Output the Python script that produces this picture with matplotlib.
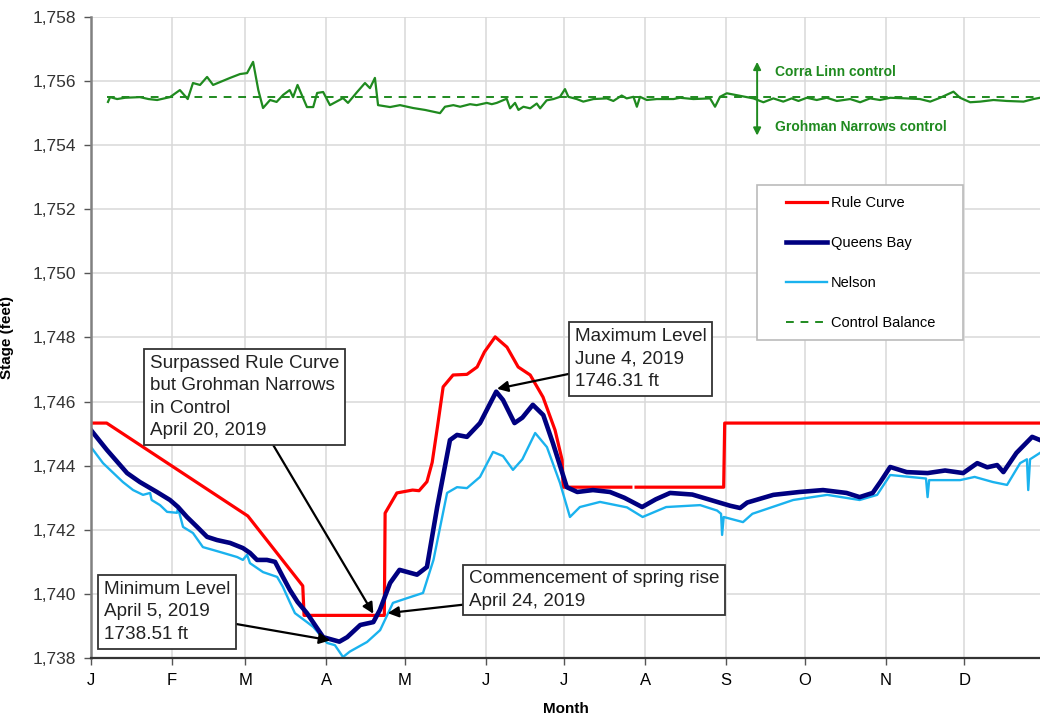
"""Kootenay Lake stage hydrograph, 2019 (Queens Bay / Nelson vs rule curve)."""

import matplotlib

matplotlib.use("Agg")
import matplotlib.pyplot as plt
import numpy as np
from matplotlib.patches import Rectangle

plt.rcParams["font.family"] = ["Liberation Sans", "DejaVu Sans"]

nan = np.nan

# day of year (0 = Jan 1)
month_starts = [0, 31, 59, 90, 120, 151, 181, 212, 243, 273, 304, 334]
month_labels = ["J", "F", "M", "A", "M", "J", "J", "A", "S", "O", "N", "D"]
y_ticks = [1738, 1740, 1742, 1744, 1746, 1748, 1750, 1752, 1754, 1756, 1758]

rule_day = [0, 6, 60, 81, 81.5, 112.2, 112.5, 117, 123, 125.5, 128.5, 130.5, 132.5, 134.7, 138.5,
            143.8, 147.7, 150.5, 154.6, 159.1, 163.4, 168, 172.9, 177.5, 180.2, 180.6, 206.5,
            207.5, 208.5, 242, 242.4, 365]
rule_val = [1745.33, 1745.33, 1742.43, 1740.25, 1739.33, 1739.33, 1742.52, 1743.15, 1743.24, 1743.22,
            1743.5, 1744.1, 1745.2, 1746.46, 1746.83, 1746.85, 1747.08, 1747.55, 1748.02, 1747.7,
            1747.08, 1746.83, 1746.14, 1745.11, 1744.18, 1743.33, 1743.33, nan, 1743.33, 1743.33,
            1745.33, 1745.33]

qb_day = [0, 6.1, 13.8, 18.7, 25.2, 30.2, 33.3, 36.7, 40.6, 44.4, 48.2, 53.2, 58.1, 60.8, 63.5,
          67.3, 70.4, 73.4, 76.1, 79, 82.6, 88.8, 95, 98, 103, 108, 110.5, 114.4, 118, 124.7,
          128.5, 132.4, 137.3, 140, 143.8, 148.8, 155, 157.6, 162, 165, 169, 173, 176.7, 182, 186,
          192, 198.5, 204, 210.8, 216, 221.5, 230, 239.5, 244.5, 248.3, 251, 261, 271, 280, 289,
          294, 299, 302, 305.7, 312, 320, 326.7, 333.6, 339, 342.8, 346.6, 349, 354, 360, 363]
qb_val = [1745.11, 1744.49, 1743.77, 1743.49, 1743.18, 1742.93, 1742.71, 1742.4, 1742.09, 1741.78,
          1741.68, 1741.59, 1741.43, 1741.28, 1741.06, 1741.06, 1741.0, 1740.53, 1740.12, 1739.75,
          1739.4, 1738.65, 1738.51, 1738.65, 1739.03, 1739.12, 1739.5, 1740.34, 1740.75, 1740.6,
          1740.84, 1742.7, 1744.8, 1744.96, 1744.9, 1745.33, 1746.31, 1746.05, 1745.33, 1745.5,
          1745.9, 1745.58, 1744.7, 1743.33, 1743.18, 1743.24, 1743.18, 1743.0, 1742.71, 1742.95,
          1743.15, 1743.1, 1742.87, 1742.75, 1742.68, 1742.85, 1743.09, 1743.18, 1743.24, 1743.15,
          1743.02, 1743.15, 1743.5, 1743.96, 1743.8, 1743.77, 1743.85, 1743.77, 1744.08, 1743.95,
          1744.02, 1743.8, 1744.4, 1744.9, 1744.8]

nelson_day = [0, 4.6, 7.3, 12.2, 16.1, 19.9, 22.6, 23.2, 26.4, 29.1, 32.9, 33.3, 35.2, 39, 42.8,
              46.7, 50.5, 55.9, 58.1, 59.7, 60.8, 65.8, 71.2, 73.4, 76, 78, 82.6, 85, 90.3, 93.3,
              96.4, 99, 105.6, 110.6, 115.5, 121, 127, 131, 136.2, 140, 143.8, 148.8, 153.8, 157.6,
              161.4, 165, 169.9, 174.4, 179.4, 183.2, 187, 194.7, 205, 211, 220, 233, 239.5, 241,
              241.4, 242, 249.4, 253, 268.6, 281.6, 294, 300.7, 305.7, 317, 319.4, 320, 320.6,
              332.4, 338, 345, 350.4, 355.4, 358, 358.5, 359.2, 363]
nelson_val = [1744.58, 1744.08, 1743.87, 1743.49, 1743.24, 1743.09, 1743.15, 1742.93, 1742.77,
              1742.56, 1742.53, 1742.68, 1742.09, 1741.9, 1741.46, 1741.37, 1741.28, 1741.15,
              1741.06, 1741.22, 1740.96, 1740.68, 1740.53, 1740.22, 1739.75, 1739.4, 1739.12,
              1738.97, 1738.47, 1738.4, 1738.03, 1738.2, 1738.5, 1738.87, 1739.72, 1739.87,
              1740.03, 1741.06, 1743.15, 1743.33, 1743.3, 1743.65, 1744.43, 1744.3, 1743.87, 1744.2,
              1745.02, 1744.58, 1743.46, 1742.4, 1742.71, 1742.87, 1742.7, 1742.4, 1742.71, 1742.77,
              1742.6, 1742.5, 1741.84, 1742.4, 1742.24, 1742.5, 1742.93, 1743.09, 1742.93, 1743.09,
              1743.71, 1743.62, 1743.6, 1743.02, 1743.55, 1743.55, 1743.65, 1743.49, 1743.4,
              1744.08, 1744.2, 1743.24, 1744.2, 1744.4]

ctrl_day = [6.5, 7.3, 10, 13, 18.7, 22, 25.3, 30.2, 34, 37, 39, 41.7, 44.4, 46.7, 53.2, 57, 59.7,
            62, 64, 65.8, 68.5, 71, 73.5, 76, 77.3, 79, 82.6, 85, 86.5, 88.8, 91.4, 96.4, 98.3,
            101.8, 104.8, 106.7, 108.6, 109.8, 114.4, 118.2, 123.2, 127.8, 133.5, 135.4, 138.6,
            141.2, 145, 147.5, 151.4, 153.3, 155.2, 159, 160.3, 162.2, 163.5, 165.4, 168, 170.5,
            171.8, 174.3, 176.9, 179.4, 181.3, 182.6, 185.8, 188.3, 192.2, 197.3, 199.8, 203,
            204.9, 207.5, 208.8, 210, 212.6, 216.4, 222.8, 225.3, 230.4, 236.8, 238.7, 240.6,
            243.2, 248.3, 253.4, 257.2, 261, 264.8, 268, 270.6, 273.8, 277.6, 281.4, 285.3, 290.4,
            294.2, 298, 301.8, 305.7, 312, 317.1, 321, 324.8, 329.9, 332.4, 336.3, 340.1, 345.2,
            350.3, 356.7, 360.5, 363]
ctrl_val = [1755.35, 1755.5, 1755.44, 1755.48, 1755.5, 1755.44, 1755.41, 1755.5, 1755.72, 1755.44,
            1755.94, 1755.88, 1756.13, 1755.88, 1756.1, 1756.22, 1756.25, 1756.6, 1755.72, 1755.16,
            1755.41, 1755.35, 1755.57, 1755.72, 1755.5, 1755.88, 1755.19, 1755.19, 1755.63,
            1755.66, 1755.25, 1755.47, 1755.32, 1755.66, 1755.94, 1755.78, 1756.1, 1755.25,
            1755.19, 1755.25, 1755.16, 1755.1, 1755.0, 1755.2, 1755.25, 1755.2, 1755.28, 1755.25,
            1755.32, 1755.28, 1755.32, 1755.45, 1755.15, 1755.32, 1755.1, 1755.2, 1755.15, 1755.3,
            1755.15, 1755.4, 1755.44, 1755.51, 1755.75, 1755.51, 1755.44, 1755.36, 1755.44,
            1755.46, 1755.38, 1755.55, 1755.46, 1755.51, 1755.2, 1755.51, 1755.41, 1755.44,
            1755.44, 1755.48, 1755.44, 1755.46, 1755.2, 1755.51, 1755.62, 1755.54, 1755.46,
            1755.34, 1755.46, 1755.36, 1755.46, 1755.38, 1755.48, 1755.41, 1755.48, 1755.38,
            1755.44, 1755.34, 1755.46, 1755.41, 1755.48, 1755.46, 1755.44, 1755.36, 1755.48,
            1755.67, 1755.48, 1755.34, 1755.36, 1755.41, 1755.38, 1755.36, 1755.44, 1755.48]

balance_day = [6, 365]
balance_val = [1755.5, 1755.5]

RED = "#ff0000"
NAVY = "#000080"
SKY = "#1ab2ee"
GREEN = "#1f8a1f"


def _annotate(ax, text, xy, text_px, fs=13.6):
    ax.annotate(
        text,
        xy=xy,
        xycoords="data",
        xytext=text_px,
        textcoords="figure pixels",
        ha="left",
        va="center",
        fontsize=fs,
        color="#222222",
        linespacing=1.42,
        bbox=dict(boxstyle="square,pad=0.3", fc="white", ec="#333333", lw=1.3),
        arrowprops=dict(arrowstyle="-|>", color="black", lw=1.6, mutation_scale=16, shrinkA=0, shrinkB=0),
        zorder=10,
    )


def main() -> None:
    fig = plt.figure(figsize=(10.4, 7.15), dpi=100)
    W, H = 1040, 715
    ax = fig.add_axes([91 / W, 1 - 658 / H, 949 / W, 641 / H])

    ax.plot(balance_day, balance_val, color=GREEN, lw=1.4, ls=(0, (4, 3.5)), label="Control Balance")
    ax.plot(ctrl_day, ctrl_val, color=GREEN, lw=1.6)
    l_rule, = ax.plot(rule_day, rule_val, color=RED, lw=2.3, label="Rule Curve")
    l_nel, = ax.plot(nelson_day, nelson_val, color=SKY, lw=1.7, label="Nelson")
    l_qb, = ax.plot(qb_day, qb_val, color=NAVY, lw=3.3, label="Queens Bay")
    l_bal = ax.lines[0]

    ax.set_xlim(0, 363)
    ax.set_ylim(1738, 1758)
    ax.set_xticks(month_starts)
    ax.set_xticklabels(month_labels, fontsize=12)
    ax.set_yticks(y_ticks)
    ax.set_yticklabels([f"{v:,}" for v in y_ticks], fontsize=12.5, color="#333333")
    ax.tick_params(axis="both", direction="out", length=5, width=1, color="#555555")
    ax.tick_params(axis="x", pad=6)
    ax.tick_params(axis="y", pad=6)
    ax.grid(True, color="#d9d9d9", lw=1.1)
    ax.set_axisbelow(True)
    for side in ("top", "right"):
        ax.spines[side].set_visible(False)
    ax.spines["left"].set_color("#808080")
    ax.spines["left"].set_linewidth(1.8)
    ax.spines["bottom"].set_color("#333333")
    ax.spines["bottom"].set_linewidth(1.6)

    ax.set_xlabel("Month", fontsize=11, fontweight="bold", labelpad=10)
    ax.set_ylabel("Stage (feet)", fontsize=11, fontweight="bold", labelpad=13)

    # legend: content without frame, frame drawn as its own box underneath
    leg = ax.legend(
        handles=[l_rule, l_qb, l_nel, l_bal],
        loc="upper left",
        bbox_to_anchor=(786 / W, 1 - 196 / H),
        bbox_transform=fig.transFigure,
        borderaxespad=0,
        borderpad=0,
        fontsize=10.5,
        frameon=False,
        labelspacing=1.78,
        handlelength=2.8,
        handletextpad=0.3,
    )
    leg.set_zorder(6)
    ax.add_patch(Rectangle((757 / W, 1 - 340 / H), 206 / W, 155 / H, transform=fig.transFigure,
                           fc="white", ec="#bbbbbb", lw=1.2, zorder=5, clip_on=False))

    # control direction arrows
    ax.annotate("", xy=(254.8, 1756.6), xytext=(254.8, 1755.5),
                arrowprops=dict(arrowstyle="-|>", color=GREEN, lw=1.4, mutation_scale=11, shrinkA=0, shrinkB=0))
    ax.annotate("", xy=(254.8, 1754.3), xytext=(254.8, 1755.5),
                arrowprops=dict(arrowstyle="-|>", color=GREEN, lw=1.4, mutation_scale=11, shrinkA=0, shrinkB=0))
    ax.text(261.7, 1756.28, "Corra Linn control", color=GREEN, fontsize=10, fontweight="bold", va="center")
    ax.text(261.7, 1754.57, "Grohman Narrows control", color=GREEN, fontsize=10, fontweight="bold", va="center")

    _annotate(ax, "Surpassed Rule Curve\nbut Grohman Narrows\nin Control\nApril 20, 2019", (108, 1739.38), (150, H - 397))
    _annotate(ax, "Minimum Level\nApril 5, 2019\n1738.51 ft", (91.5, 1738.55), (104, H - 612))
    _annotate(ax, "Commencement of spring rise\nApril 24, 2019", (113.5, 1739.4), (469, H - 590))
    _annotate(ax, "Maximum Level\nJune 4, 2019\n1746.31 ft", (155.3, 1746.4), (575, H - 359))

    fig.savefig("out.png", dpi=100)
    plt.close(fig)


if __name__ == "__main__":
    main()
